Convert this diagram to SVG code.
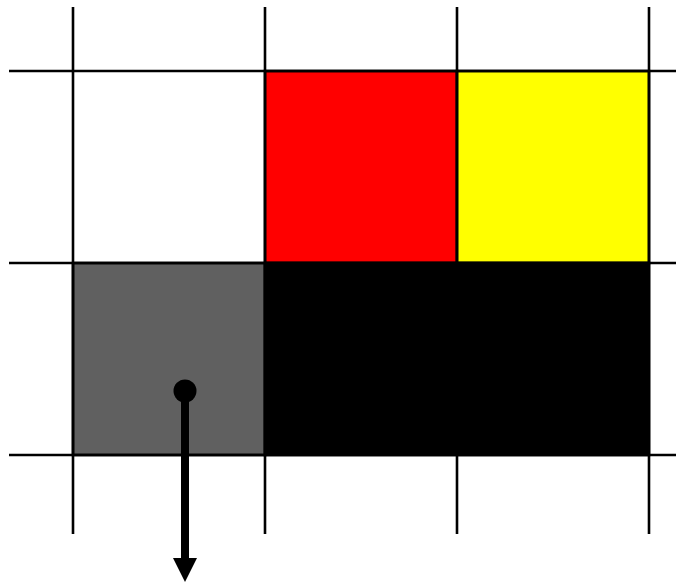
<svg xmlns="http://www.w3.org/2000/svg" width="676" height="586" viewBox="0 0 676 586">
<style>
.grid{stroke:#000;stroke-width:2.6;fill:none}
.cell{stroke:#000;stroke-width:2.6}
</style>
<defs>
<marker id="ah" markerUnits="userSpaceOnUse" markerWidth="26" markerHeight="26" refX="12" refY="24" orient="auto-start-reverse" viewBox="0 0 26 26">
</marker>
</defs>
<rect width="676" height="586" fill="#fff"/>
<g id="cells">
<rect id="cell-red" class="cell" x="265" y="71" width="192" height="192" fill="#ff0000"/>
<rect id="cell-yellow" class="cell" x="457" y="71" width="192" height="192" fill="#ffff00"/>
<rect id="cell-gray" class="cell" x="73" y="263" width="192" height="192" fill="#606060"/>
<rect id="cell-black" class="cell" x="265" y="263" width="384" height="192" fill="#000"/>
</g>
<g id="grid" class="grid">
<line x1="73" y1="7" x2="73" y2="534"/>
<line x1="265" y1="7" x2="265" y2="534"/>
<line x1="457" y1="7" x2="457" y2="534"/>
<line x1="649" y1="7" x2="649" y2="534"/>
<line x1="9" y1="71" x2="676" y2="71"/>
<line x1="9" y1="263" x2="676" y2="263"/>
<line x1="9" y1="455" x2="676" y2="455"/>
</g>
<g id="connectors">
<circle cx="185" cy="391" r="11.5" fill="#000"/>
<line x1="185" y1="391" x2="185" y2="560" stroke="#000" stroke-width="8"/>
<polygon points="173,558 197,558 185,582" fill="#000"/>
</g>
</svg>
